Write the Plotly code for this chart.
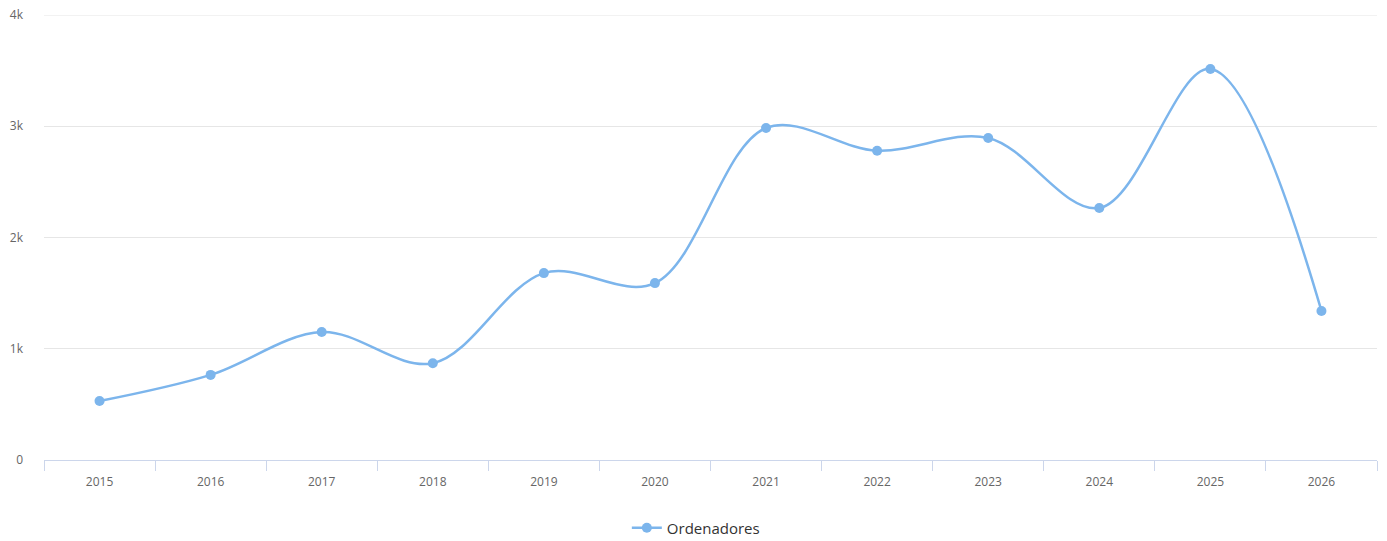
import plotly.graph_objects as go

# datos
years = ["2015", "2016", "2017", "2018", "2019", "2020",
         "2021", "2022", "2023", "2024", "2025", "2026"]
ordenadores = [530, 765, 1150, 870, 1680, 1590, 2985, 2780, 2895, 2265, 3515, 1340]

y_ticks = [0, 1000, 2000, 3000, 4000]
y_tick_labels = ["0", "1k", "2k", "3k", "4k"]

fig = go.Figure()
fig.add_trace(go.Scatter(
    x=years, y=ordenadores,
    name="Ordenadores",
    mode="lines+markers",
    line=dict(color="#7cb5ec", width=2.5, shape="spline", smoothing=1.0),
    marker=dict(color="#7cb5ec", size=10),
    showlegend=True,
))

fig.update_xaxes(
    type="category",
    range=[-0.5, 11.5],
    tickson="boundaries",
    ticks="outside", ticklen=10, tickcolor="#ccd6eb",
    showline=True, linecolor="#ccd6eb", linewidth=1,
    showgrid=False, zeroline=False,
    ticklabelstandoff=11,
    automargin=False,
    tickfont=dict(size=12, color="#666666"),
)
fig.update_yaxes(
    range=[0, 4000],
    tickvals=y_ticks, ticktext=y_tick_labels,
    showgrid=True, gridcolor="#e6e6e6", gridwidth=1,
    zeroline=False, showline=False,
    ticklabelstandoff=20,
    ticklabeloverflow="allow",
    automargin=False,
    tickfont=dict(size=12, color="#666666"),
)

# línea de la rejilla superior (4k), que plotly omite en el borde
fig.add_shape(type="line", xref="paper", x0=0, x1=1, yref="y", y0=y_ticks[-1], y1=y_ticks[-1],
              line=dict(color="#e6e6e6", width=1), layer="below")

fig.update_layout(
    width=1387, height=541,
    margin=dict(l=44, r=10, t=15, b=81, autoexpand=False),
    paper_bgcolor="white", plot_bgcolor="white",
    font=dict(family="Open Sans, sans-serif"),
    legend=dict(
        orientation="h", x=0.489, xanchor="center",
        y=-0.153, yanchor="middle",
        itemwidth=30,
        font=dict(size=15, color="#333333"),
    ),
    hovermode="closest",
)

fig.write_html("out.html", config={"displayModeBar": False},
               post_script="document.body.style.margin='0';")
